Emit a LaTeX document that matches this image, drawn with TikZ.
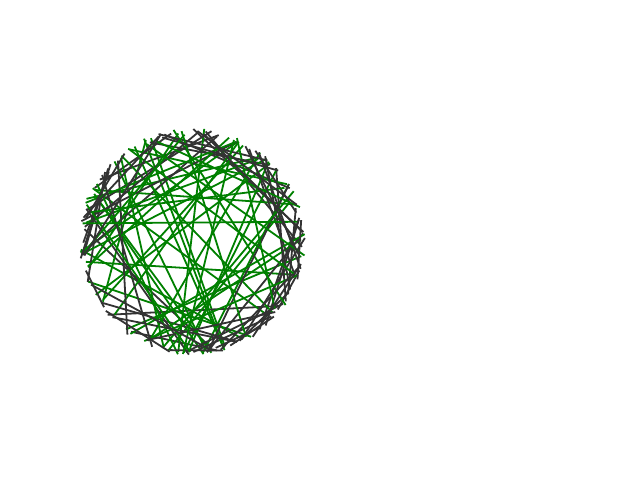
\documentclass[tikz,border=0pt]{standalone}
\definecolor{darkedge}{HTML}{333333}
\definecolor{greenedge}{RGB}{0,128,0}
\tikzset{
  darkline/.style={draw=darkedge, line width=1.8pt},
  greenline/.style={draw=greenedge, line width=1.8pt}
}
\begin{document}
\begin{tikzpicture}[x=1pt,y=1pt]
\useasboundingbox (0,0) rectangle (640,480);
\coordinate (ctr) at (192,238);
\pgfmathsetseed{5}
\foreach \i in {1,...,55}{
  \pgfmathsetmacro{\a}{rnd*360}
  \pgfmathsetmacro{\d}{20+rnd*95}
  \pgfmathsetmacro{\b}{\a+\d}
  \pgfmathsetmacro{\ra}{108+rnd*5}
  \pgfmathsetmacro{\rb}{108+rnd*5}
  \draw[darkline, shift={(ctr)}] (\a:\ra) -- (\b:\rb);
  \pgfmathsetmacro{\c}{rnd*360}
  \pgfmathsetmacro{\e}{80+rnd*100}
  \pgfmathsetmacro{\f}{\c+\e}
  \pgfmathsetmacro{\rc}{106+rnd*8}
  \pgfmathsetmacro{\rd}{106+rnd*8}
  \ifnum\i<49
  \draw[greenline, shift={(ctr)}] (\c:\rc) -- (\f:\rd);
  \fi
}
\end{tikzpicture}
\end{document}
